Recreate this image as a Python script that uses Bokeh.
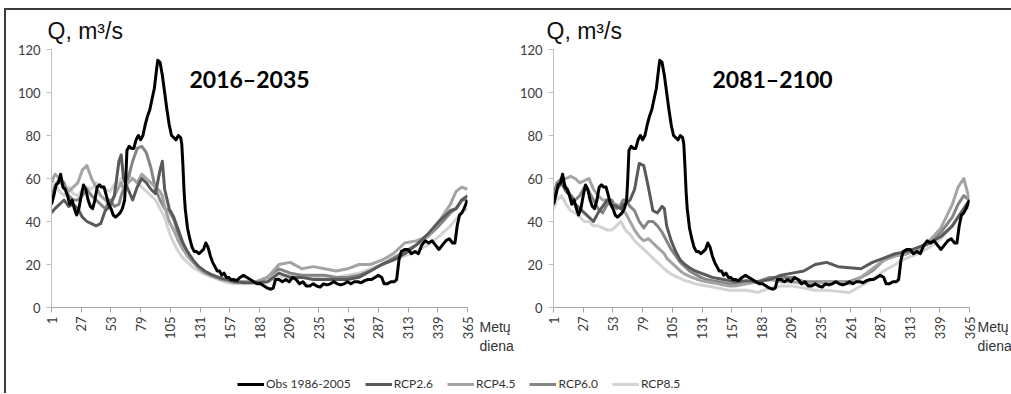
import math
from bokeh.plotting import figure
from bokeh.models import Range1d, FixedTicker, Label, Legend, LegendItem, LinearAxis, Title
from bokeh.layouts import row, column
from bokeh.embed import file_html
from bokeh.resources import INLINE

# ---------------- data ----------------
DAYS = [1, 4, 8, 12, 16, 20, 24, 28, 32, 36,
        40, 44, 48, 52, 56, 60, 62, 64, 68, 72,
        76, 80, 84, 88, 92, 96, 98, 100, 104, 108,
        112, 116, 120, 125, 130, 135, 140, 145, 150, 155,
        160, 170, 180, 190, 200, 210, 220, 230, 240, 250,
        260, 270, 280, 290, 300, 310, 320, 330, 340, 350,
        355, 360, 365]

OBS_DAYS = [1, 3, 5, 7, 9, 11, 13, 15, 17, 19, 21, 23, 25, 27, 29, 31, 33, 35, 37, 39,
            41, 43, 45, 47, 49, 51, 53, 55, 57, 59, 61, 63, 65, 66, 67, 69, 71, 73, 75, 77,
            79, 81, 83, 85, 87, 89, 91, 93, 94, 96, 98, 100, 102, 104, 106, 108, 110, 112, 114, 115,
            116, 117, 118, 120, 122, 124, 126, 128, 130, 132, 134, 136, 138, 140, 142, 144, 146, 148, 150, 152,
            154, 156, 158, 160, 163, 166, 169, 172, 175, 178, 181, 184, 187, 190, 193, 195, 197, 200, 203, 206,
            209, 212, 215, 218, 221, 224, 227, 230, 233, 236, 239, 242, 245, 248, 251, 254, 257, 260, 263, 266,
            269, 272, 275, 278, 281, 284, 287, 290, 292, 295, 298, 301, 303, 305, 307, 310, 313, 316, 319, 322,
            325, 328, 331, 334, 337, 340, 343, 346, 349, 352, 354, 356, 358, 360, 362, 365]
OBS_Q = [48, 52, 57, 58, 62, 56, 55, 52, 48, 50, 46, 43, 46, 52, 57, 55, 50, 47, 46, 50,
         56, 57, 56, 56, 52, 48, 46, 43, 42, 43, 44, 46, 50, 60, 73, 75, 74, 74, 78, 80,
         78, 80, 85, 89, 92, 97, 102, 111, 115, 114, 108, 100, 92, 85, 80, 79, 78, 80, 79, 76,
         66, 54, 46, 37, 32, 28, 26, 26, 25, 26, 27, 30, 28, 24, 21, 19, 17, 17, 15, 16,
         14, 14, 13, 13, 12.5, 14, 15, 14, 13, 12, 11, 11, 10, 9, 8.5, 9, 13, 13, 12, 13,
         12, 14, 13, 11, 12, 10, 10, 11, 10, 9.5, 11, 10.5, 11, 12, 11, 10.5, 11, 12, 11, 12,
         12, 11.5, 12.5, 13, 13, 14, 15, 14, 11, 11, 12, 12, 13, 22, 26, 27, 27, 25, 26, 25,
         29, 31, 30, 31, 29, 27, 29, 31, 32, 30, 30, 38, 43, 44, 46, 50]

# 2016-2035
L_RCP26 = [44, 46, 48, 50, 47, 48, 46, 42, 40, 39,
           38, 39, 45, 47, 52, 68, 71, 60, 55, 50,
           56, 60, 58, 55, 53, 64, 68, 55, 46, 42,
           36, 30, 26, 22, 19, 17, 15.5, 14.5, 13.5, 13,
           12, 11.5, 11.5, 12, 16, 14, 14, 13, 13, 13,
           13, 14, 17, 20, 22, 25, 29, 34, 40, 45,
           46, 50, 52]
L_RCP45 = [58, 62, 60, 55, 54, 56, 58, 64, 66, 60,
           56, 52, 50, 48, 52, 56, 58, 55, 58, 60,
           58, 62, 60, 58, 56, 54, 52, 47, 40, 36,
           31, 27, 24, 21, 18, 16, 15, 14, 13, 12.5,
           12, 12, 12, 14, 20, 21, 18, 19, 18, 17,
           18, 20, 20, 22, 25, 30, 31, 33, 40, 48,
           54, 56, 55]
L_RCP60 = [52, 56, 60, 58, 52, 50, 50, 52, 55, 52,
           50, 48, 46, 50, 47, 48, 52, 55, 60, 68,
           74, 75, 72, 65, 55, 50, 48, 46, 45, 41,
           34, 28, 24, 21, 18.5, 16.5, 15, 14, 13, 12.5,
           12, 12, 11.5, 14, 18, 16, 15, 15, 15, 14,
           14, 15, 17, 20, 23, 26, 29, 33, 38, 44,
           46, 50, 50]
L_RCP85 = [55, 58, 54, 52, 56, 53, 52, 55, 56, 55,
           58, 56, 55, 54, 57, 58, 60, 58, 62, 60,
           58, 56, 54, 52, 50, 46, 44, 42, 35, 30,
           26, 23, 21, 18.5, 17, 15.5, 14.5, 13.5, 12.5, 11.5,
           11, 11, 11.5, 12, 14, 15, 14, 14, 14, 14,
           15, 16, 18, 20, 22, 24, 26, 29, 33, 38,
           41, 44, 46]

# 2081-2100
R_RCP26 = [50, 55, 58, 54, 52, 48, 46, 44, 42, 40,
           44, 47, 50, 48, 47, 46, 48, 48, 50, 55,
           67, 66, 56, 45, 44, 47, 46, 38, 31, 26,
           22, 20, 18.5, 17, 16, 15, 14, 13.5, 13, 12.5,
           12, 12.5, 12, 13, 15, 16, 17, 20, 21, 19,
           18.5, 18, 21, 23, 25, 26, 28, 30, 33, 38,
           42, 46, 50]
R_RCP45 = [48, 55, 60, 60, 61, 60, 58, 59, 60, 55,
           52, 50, 50, 48, 48, 46, 45, 44, 40, 36,
           33, 31, 32, 30, 28, 26, 25, 23, 21, 19,
           17, 15.5, 14.5, 13.5, 12.5, 12, 11.5, 11, 10.5, 10,
           10, 11, 12, 13, 12, 12, 11, 11, 12, 12,
           11, 14, 18, 22, 24, 25, 27, 31, 37, 48,
           56, 60, 50]
R_RCP60 = [52, 58, 60, 56, 52, 50, 52, 56, 54, 50,
           46, 44, 48, 50, 46, 48, 50, 50, 47, 45,
           40, 37, 40, 40, 38, 35, 33, 31, 27, 24,
           21, 19, 17, 15.5, 14, 13, 12.5, 12, 11.5, 11,
           11, 11.5, 12, 14, 14, 14, 12, 12, 12, 12,
           12, 14, 17, 22, 24, 25, 27, 30, 35, 42,
           48, 52, 50]
R_RCP85 = [46, 50, 52, 48, 45, 44, 42, 40, 40, 38,
           38, 37, 36, 36, 38, 40, 38, 36, 34, 31,
           29, 27, 25, 23, 21, 19, 18, 17, 15.5, 14.5,
           13.5, 12.5, 12, 11, 10.5, 10, 9.5, 9, 8.5, 8,
           8, 8, 7, 9, 10, 10, 9, 8, 8, 7.5,
           7, 10, 13, 17, 20, 23, 25, 28, 32, 38,
           42, 45, 47]

X_TICKS = [1, 27, 53, 79, 105, 131, 157, 183, 209, 235, 261, 287, 313, 339, 365]
Y_TICKS = [0, 20, 40, 60, 80, 100, 120]
SERIES = ["Obs 1986-2005", "RCP2.6", "RCP4.5", "RCP6.0", "RCP8.5"]
COLORS = ["#000000", "#5a5a5a", "#a4a4a4", "#858585", "#d3d3d3"]
PERIODS = ["2016\u20132035", "2081\u20132100"]
Y_LABEL = "Q, m\u00b3/s"
X_LABEL = "\n\n\nMet\u0173\ndiena"

for arr in (L_RCP26, L_RCP45, L_RCP60, L_RCP85, R_RCP26, R_RCP45, R_RCP60, R_RCP85):
    assert len(arr) == len(DAYS)
assert len(OBS_DAYS) == len(OBS_Q)

TICK_FONT = "Lato"
LABEL_FONT = "Liberation Sans"


def make_panel(period, rcps, border_left, border_right, title_x, ylab_offset, xlab_standoff):
    p = figure(frame_width=416, frame_height=258,
               min_border_left=border_left, min_border_right=border_right,
               min_border_top=39, min_border_bottom=63,
               x_range=Range1d(1, 365), y_range=Range1d(0, 120),
               toolbar_location=None, output_backend="svg")
    p.outline_line_color = None
    p.grid.visible = False
    p.background_fill_color = "white"
    p.border_fill_color = "white"

    # draw RCPs (lightest first), then observations on top
    for idx in [4, 3, 2, 1]:
        p.line(DAYS, rcps[idx - 1], line_color=COLORS[idx], line_width=3,
               line_join="round")
    p.line(OBS_DAYS, OBS_Q, line_color=COLORS[0], line_width=3, line_join="round")

    xa = p.xaxis[0]
    xa.ticker = FixedTicker(ticks=X_TICKS)
    xa.major_label_orientation = math.pi / 2
    xa.axis_line_color = "#a6a6a6"
    xa.major_tick_line_color = "#a6a6a6"
    xa.major_tick_out = 5
    xa.major_tick_in = 0
    xa.minor_tick_out = 0
    xa.minor_tick_in = 0
    xa.major_label_standoff = 4
    xa.major_label_text_font = TICK_FONT
    xa.major_label_text_font_size = "13px"
    xa.major_label_text_color = "#3a3a3a"

    ya = p.yaxis[0]
    ya.ticker = FixedTicker(ticks=Y_TICKS)
    ya.axis_line_color = "#bfbfbf"
    ya.major_tick_line_color = "#bfbfbf"
    ya.major_tick_out = 5
    ya.major_tick_in = 0
    ya.minor_tick_out = 0
    ya.minor_tick_in = 0
    ya.major_label_standoff = 6
    ya.major_label_text_font = TICK_FONT
    ya.major_label_text_font_size = "13px"
    ya.major_label_text_color = "#3a3a3a"

    # "Metų diena" as a label-only axis on the right, at the bottom of the frame
    p.extra_y_ranges = {"lab": Range1d(0, 1)}
    la = LinearAxis(y_range_name="lab", ticker=FixedTicker(ticks=[0]),
                    major_label_overrides={0: X_LABEL})
    la.axis_line_color = None
    la.major_tick_line_color = None
    la.minor_tick_line_color = None
    la.major_tick_out = 0
    la.major_tick_in = 0
    la.minor_tick_out = 0
    la.minor_tick_in = 0
    la.major_label_standoff = xlab_standoff
    la.major_label_text_font = LABEL_FONT
    la.major_label_text_font_size = "14px"
    la.major_label_text_color = "#333333"
    p.add_layout(la, "right")

    p.add_layout(Title(text=Y_LABEL, align="left", offset=ylab_offset, standoff=11,
                       text_font=LABEL_FONT, text_font_size="23px",
                       text_font_style="normal", text_color="#111111"), "above")
    p.add_layout(Label(x=title_x, y=229, x_units="screen", y_units="screen", text=period,
                       text_font=TICK_FONT, text_font_size="23px", text_font_style="bold",
                       text_color="#000000", text_baseline="alphabetic"))
    return p


p1 = make_panel(PERIODS[0], [L_RCP26, L_RCP45, L_RCP60, L_RCP85], 45, 47, 138, -4, 12)
p2 = make_panel(PERIODS[1], [R_RCP26, R_RCP45, R_RCP60, R_RCP85], 34, 43, 159, -7, 8)

# legend strip
pl = figure(width=1003, height=23, x_range=Range1d(0, 1), y_range=Range1d(0, 1),
            min_border=0, x_axis_location=None, y_axis_location=None,
            toolbar_location=None, output_backend="svg")
pl.outline_line_color = None
pl.grid.visible = False
items = []
for name, col in zip(SERIES, COLORS):
    r = pl.line([5, 6], [5, 6], line_color=col, line_width=3)
    items.append(LegendItem(label=name, renderers=[r]))
legend = Legend(items=items, orientation="horizontal", location=(231, 2),
                glyph_width=27, glyph_height=14, label_height=14, label_standoff=2,
                spacing=14, padding=0, margin=0, border_line_color=None,
                background_fill_alpha=0, label_text_font=TICK_FONT,
                label_text_font_size="12px", label_text_color="#333333")
pl.add_layout(legend)

layout = column(row(p1, p2), pl, margin=(8, 0, 0, 4),
                styles={"border-top": "2px solid #3c3c3c", "border-left": "2px solid #3c3c3c"})

open("out.html", "w").write(file_html(layout, INLINE))
